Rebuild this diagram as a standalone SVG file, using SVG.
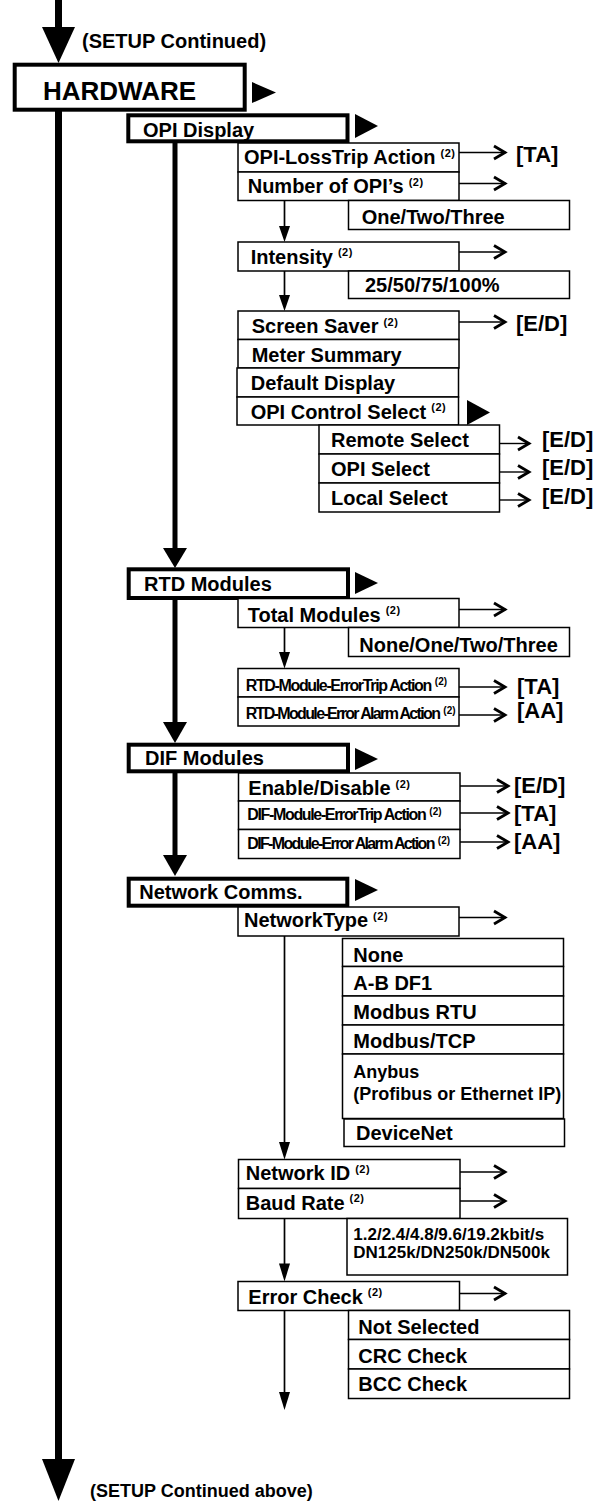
<svg xmlns="http://www.w3.org/2000/svg" width="594" height="1501" viewBox="0 0 594 1501">
<defs>
<style>
text{font-family:"Liberation Sans",Arial,Helvetica,sans-serif;font-weight:bold;fill:#000}
.t{font-size:20px}
.a{font-size:18px}
.b{font-size:17px}
.sup{font-size:11px;letter-spacing:0.5px}
.sup2{font-size:10px}
.sm{font-size:16px;letter-spacing:-1.35px}
.sm2{font-size:16px;letter-spacing:-1.65px}
.lbl{font-size:22px}
.big{font-size:26px}
.box{fill:#fff;stroke:#000;stroke-width:1.5}
.hbox{fill:#fff;stroke:#000;stroke-width:4}
.thin{stroke:#000;stroke-width:1.7;fill:none}
.main{stroke:#000;stroke-width:7;fill:none}
.sub{stroke:#000;stroke-width:5;fill:none}
.h{stroke:#000;stroke-width:1.4;fill:none;marker-end:url(#chev)}
.tri{fill:#000;stroke:none}
</style>
<marker id="chev" markerUnits="userSpaceOnUse" markerWidth="18" markerHeight="18" viewBox="0 0 18 18" refX="15" refY="9" orient="auto" overflow="visible"><path d="M3,2.5 L14,9 L3,15.5" fill="none" stroke="#000" stroke-width="2.8"/></marker>
</defs>
<rect x="0" y="0" width="594" height="1501" fill="#fff"/>

<g id="connectors">
  <line class="main" x1="58.5" y1="0" x2="58.5" y2="30"/>
  <polygon class="tri" points="42,27 75,27 58.5,63"/>
  <line class="main" x1="58.5" y1="110" x2="58.5" y2="1462"/>
  <polygon class="tri" points="42,1459 75,1459 58.5,1501"/>
  <polygon class="tri" points="252,82 276,92.5 252,103"/>
  <polygon class="tri" points="355,114 378,126 355,138"/>
  <polygon class="tri" points="355,572 378,583 355,594"/>
  <polygon class="tri" points="355,748 378,759 355,770"/>
  <polygon class="tri" points="355,879 378,890 355,901"/>
  <polygon class="tri" points="467,400 490,412.5 467,425"/>
  <line class="sub" x1="175" y1="142" x2="175" y2="550"/>
  <polygon class="tri" points="163,548 187,548 175,568"/>
  <line class="sub" x1="175" y1="599" x2="175" y2="724"/>
  <polygon class="tri" points="163,722 187,722 175,743"/>
  <line class="sub" x1="175" y1="772" x2="175" y2="857"/>
  <polygon class="tri" points="163,855 187,855 175,876"/>
  <line class="thin" x1="284.5" y1="200.5" x2="284.5" y2="228"/>
  <polygon class="tri" points="279,226 290,226 284.5,242"/>
  <line class="thin" x1="284.5" y1="271" x2="284.5" y2="297"/>
  <polygon class="tri" points="279,295 290,295 284.5,311"/>
  <line class="thin" x1="284.5" y1="627.5" x2="284.5" y2="654"/>
  <polygon class="tri" points="279,652 290,652 284.5,668.5"/>
  <line class="thin" x1="284.5" y1="936" x2="284.5" y2="1144"/>
  <polygon class="tri" points="279,1142 290,1142 284.5,1159.5"/>
  <line class="thin" x1="284.5" y1="1218.5" x2="284.5" y2="1265"/>
  <polygon class="tri" points="279,1263.5 290,1263.5 284.5,1281.5"/>
  <line class="thin" x1="284.5" y1="1310.5" x2="284.5" y2="1394"/>
  <polygon class="tri" points="279,1392 290,1392 284.5,1410"/>
  <line class="h" x1="459" y1="152.5" x2="506" y2="152.5"/>
  <line class="h" x1="459" y1="183.5" x2="506" y2="183.5"/>
  <line class="h" x1="459" y1="252" x2="506" y2="252"/>
  <line class="h" x1="459" y1="322" x2="506" y2="322"/>
  <line class="h" x1="499.5" y1="443.5" x2="530" y2="443.5"/>
  <line class="h" x1="499.5" y1="472" x2="530" y2="472"/>
  <line class="h" x1="499.5" y1="500" x2="530" y2="500"/>
  <line class="h" x1="459" y1="609.5" x2="506" y2="609.5"/>
  <line class="h" x1="459" y1="687" x2="506" y2="687"/>
  <line class="h" x1="459" y1="715" x2="506" y2="715"/>
  <line class="h" x1="460" y1="786" x2="509" y2="786"/>
  <line class="h" x1="460" y1="813" x2="509" y2="813"/>
  <line class="h" x1="460" y1="842" x2="509" y2="842"/>
  <line class="h" x1="459" y1="917.5" x2="506" y2="917.5"/>
  <line class="h" x1="460" y1="1172" x2="506" y2="1172"/>
  <line class="h" x1="460" y1="1201" x2="506" y2="1201"/>
  <line class="h" x1="459" y1="1293.5" x2="506" y2="1293.5"/>
</g>

<g id="setup-top"><text x="82" y="47.5" style="font-size:20px">(SETUP Continued)</text></g>
<g id="hardware">
  <rect class="hbox" x="14.7" y="64.7" width="230" height="45"/>
  <text class="big" x="43" y="100">HARDWARE</text>
</g>

<g id="opi-display">
  <rect class="hbox" x="128.3" y="115.3" width="219.2" height="26"/>
  <text class="t" x="143" y="136.5">OPI Display</text>
</g>
<g id="opi-loss">
  <rect class="box" x="238" y="143" width="221" height="29"/>
  <text class="t" x="244" y="164">OPI-LossTrip Action<tspan class="sup" dx="5" dy="-7.5">(2)</tspan></text>
</g>
<g id="opi-loss-val"><text class="lbl" x="516" y="161.5">[TA]</text></g>
<g id="num-opi">
  <rect class="box" x="238" y="172" width="221" height="28.5"/>
  <text class="t" x="247.7" y="193">Number of OPI’s<tspan class="sup" dx="5" dy="-7.5">(2)</tspan></text>
</g>
<g id="num-opi-val">
  <rect class="box" x="348.5" y="200.5" width="221" height="29"/>
  <text class="t" x="361.7" y="224">One/Two/Three</text>
</g>
<g id="intensity">
  <rect class="box" x="238" y="242" width="221" height="29"/>
  <text class="t" x="250.7" y="263.5">Intensity<tspan class="sup" dx="5" dy="-7.5">(2)</tspan></text>
</g>
<g id="intensity-val">
  <rect class="box" x="348.5" y="271" width="221" height="27.5"/>
  <text class="t" x="365" y="291.5">25/50/75/100%</text>
</g>
<g id="screen-saver">
  <rect class="box" x="238" y="311" width="221" height="28.5"/>
  <text class="t" x="251.7" y="333">Screen Saver<tspan class="sup" dx="5" dy="-7.5">(2)</tspan></text>
</g>
<g id="screen-saver-val"><text class="lbl" x="516" y="331">[E/D]</text></g>
<g id="meter-summary">
  <rect class="box" x="238" y="339.5" width="221" height="28.5"/>
  <text class="t" x="251.7" y="361.5">Meter Summary</text>
</g>
<g id="default-display">
  <rect class="box" x="237" y="368" width="221.5" height="29"/>
  <text class="t" x="250.7" y="390">Default Display</text>
</g>
<g id="opi-control">
  <rect class="box" x="237" y="397" width="221.5" height="28"/>
  <text class="t" x="250.7" y="418.5">OPI Control Select<tspan class="sup" dx="5" dy="-7.5">(2)</tspan></text>
</g>
<g id="remote-select">
  <rect class="box" x="319" y="425" width="180.5" height="29"/>
  <text class="t" x="331" y="447">Remote Select</text>
  <text class="lbl" x="542" y="446.5">[E/D]</text>
</g>
<g id="opi-select">
  <rect class="box" x="319" y="454" width="180.5" height="29"/>
  <text class="t" x="331" y="476">OPI Select</text>
  <text class="lbl" x="542" y="475">[E/D]</text>
</g>
<g id="local-select">
  <rect class="box" x="319" y="483" width="180.5" height="29"/>
  <text class="t" x="331" y="505">Local Select</text>
  <text class="lbl" x="542" y="503.5">[E/D]</text>
</g>

<g id="rtd-modules">
  <rect class="hbox" x="128.7" y="569.3" width="219.3" height="28.7"/>
  <text class="t" x="144" y="591">RTD Modules</text>
</g>
<g id="total-modules">
  <rect class="box" x="238" y="598.5" width="221" height="29"/>
  <text class="t" x="247.7" y="621.5">Total Modules<tspan class="sup" dx="5" dy="-7.5">(2)</tspan></text>
</g>
<g id="total-modules-val">
  <rect class="box" x="348.5" y="627.5" width="221" height="29"/>
  <text class="t" x="359.3" y="651.5">None/One/Two/Three</text>
</g>
<g id="rtd-trip">
  <rect class="box" x="238" y="668.5" width="221" height="28.5"/>
  <text class="sm" x="245.7" y="690.5">RTD-Module-ErrorTrip Action<tspan class="sup2" dx="4" dy="-5.5" style="letter-spacing:0">(2)</tspan></text>
  <text class="lbl" x="517" y="694">[TA]</text>
</g>
<g id="rtd-alarm">
  <rect class="box" x="238" y="697" width="221" height="29"/>
  <text class="sm2" x="245.7" y="719">RTD-Module-Error Alarm Action<tspan class="sup2" dx="4" dy="-5.5" style="letter-spacing:0">(2)</tspan></text>
  <text class="lbl" x="517" y="718">[AA]</text>
</g>

<g id="dif-modules">
  <rect class="hbox" x="128.7" y="744.7" width="219.3" height="26.6"/>
  <text class="t" x="145" y="765">DIF Modules</text>
</g>
<g id="enable-disable">
  <rect class="box" x="238.5" y="773" width="221.5" height="28"/>
  <text class="t" x="248.3" y="795">Enable/Disable<tspan class="sup" dx="5" dy="-7.5">(2)</tspan></text>
  <text class="lbl" x="514" y="792.5">[E/D]</text>
</g>
<g id="dif-trip">
  <rect class="box" x="238.5" y="801" width="221.5" height="28.5"/>
  <text class="sm" x="247.3" y="820">DIF-Module-ErrorTrip Action<tspan class="sup2" dx="4" dy="-5.5" style="letter-spacing:0">(2)</tspan></text>
  <text class="lbl" x="514" y="821">[TA]</text>
</g>
<g id="dif-alarm">
  <rect class="box" x="238.5" y="829.5" width="221.5" height="29"/>
  <text class="sm2" x="247.3" y="849">DIF-Module-Error Alarm Action<tspan class="sup2" dx="4" dy="-5.5" style="letter-spacing:0">(2)</tspan></text>
  <text class="lbl" x="514" y="849">[AA]</text>
</g>

<g id="network-comms">
  <rect class="hbox" x="128.7" y="878.7" width="218.6" height="27"/>
  <text class="t" x="139.3" y="898.5">Network Comms.</text>
</g>
<g id="network-type">
  <rect class="box" x="238" y="907" width="221" height="29"/>
  <text class="t" x="244" y="927">NetworkType<tspan class="sup" dx="5" dy="-7.5">(2)</tspan></text>
</g>
<g id="network-type-vals">
  <rect class="box" x="342.5" y="938.5" width="221" height="28"/>
  <text class="t" x="353.3" y="961.5">None</text>
  <rect class="box" x="342.5" y="966.5" width="221" height="29.5"/>
  <text class="t" x="353.3" y="989.5">A-B DF1</text>
  <rect class="box" x="342.5" y="996" width="221" height="29"/>
  <text class="t" x="353.3" y="1018.5">Modbus RTU</text>
  <rect class="box" x="342.5" y="1025" width="221" height="29"/>
  <text class="t" x="353.3" y="1047.5">Modbus/TCP</text>
  <rect class="box" x="342.5" y="1054" width="221" height="64.5"/>
  <text class="a" x="353.3" y="1077.5">Anybus</text>
  <text class="a" x="353.3" y="1100">(Profibus or Ethernet IP)</text>
  <rect class="box" x="344" y="1119" width="220.5" height="27.5"/>
  <text class="t" x="356" y="1139.5">DeviceNet</text>
</g>
<g id="network-id">
  <rect class="box" x="238.5" y="1159.5" width="221.5" height="29"/>
  <text class="t" x="245.7" y="1180">Network ID<tspan class="sup" dx="5" dy="-7.5">(2)</tspan></text>
</g>
<g id="baud-rate">
  <rect class="box" x="238.5" y="1188.5" width="221.5" height="30"/>
  <text class="t" x="245.7" y="1209.5">Baud Rate<tspan class="sup" dx="5" dy="-7.5">(2)</tspan></text>
</g>
<g id="baud-rate-vals">
  <rect class="box" x="347" y="1218.5" width="220.5" height="56.5"/>
  <text class="b" x="353.3" y="1239.5">1.2/2.4/4.8/9.6/19.2kbit/s</text>
  <text class="b" x="353.3" y="1258">DN125k/DN250k/DN500k</text>
</g>
<g id="error-check">
  <rect class="box" x="238" y="1281.5" width="221.5" height="29"/>
  <text class="t" x="248.3" y="1303.5">Error Check<tspan class="sup" dx="5" dy="-7.5">(2)</tspan></text>
</g>
<g id="error-check-vals">
  <rect class="box" x="348.5" y="1310.5" width="221" height="29"/>
  <text class="t" x="358.3" y="1333.5">Not Selected</text>
  <rect class="box" x="348.5" y="1339.5" width="221" height="29.5"/>
  <text class="t" x="358.3" y="1362.5">CRC Check</text>
  <rect class="box" x="348.5" y="1369" width="221" height="29.5"/>
  <text class="t" x="358.3" y="1391">BCC Check</text>
</g>
<g id="setup-bottom"><text x="90" y="1496.5" style="font-size:18px">(SETUP Continued above)</text></g>
</svg>
